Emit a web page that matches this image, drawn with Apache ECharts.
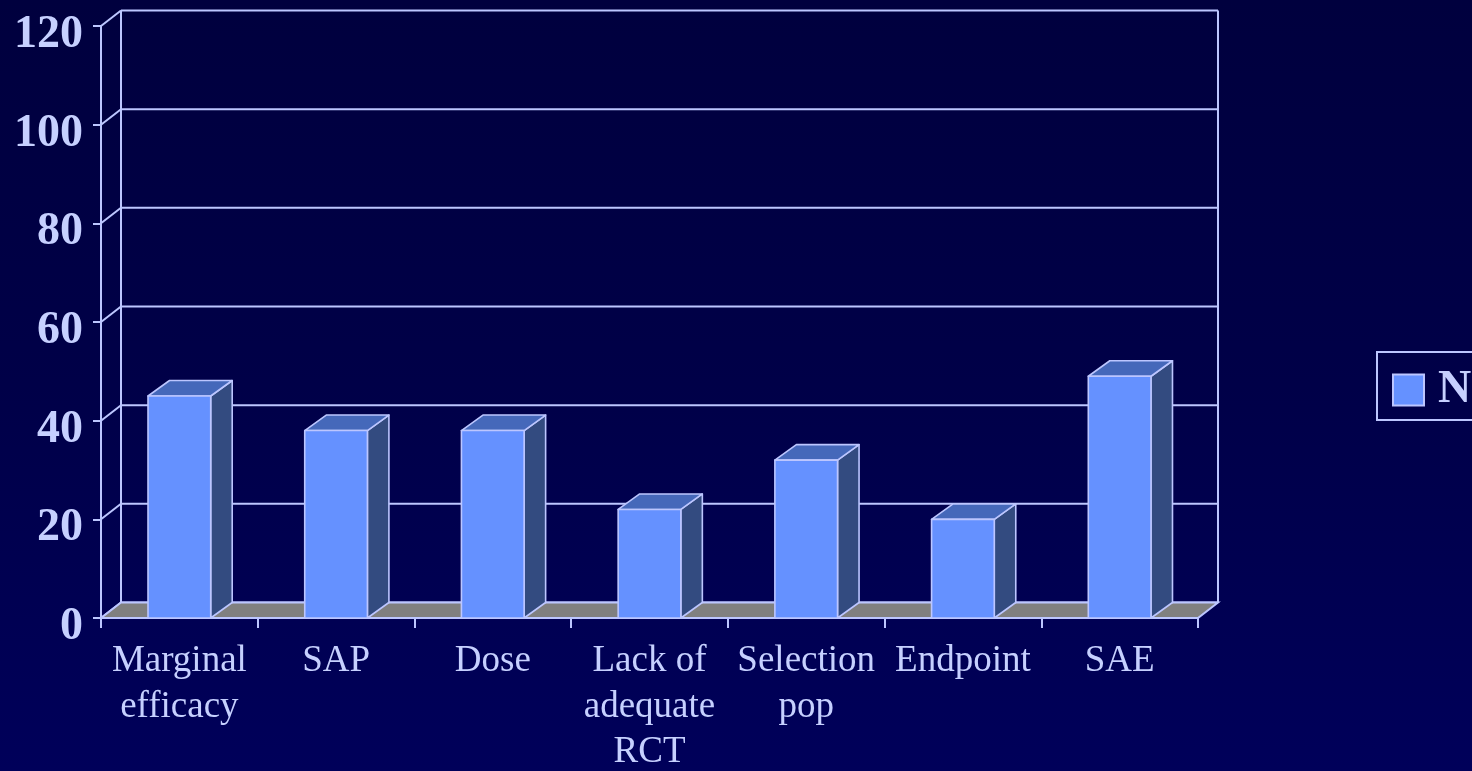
<!DOCTYPE html>
<html>
<head>
<meta charset="utf-8">
<script src="https://cdn.jsdelivr.net/npm/echarts@6/dist/echarts.min.js"></script>
<style>
  html, body { margin: 0; padding: 0; }
  #chart {
    width: 1472px; height: 771px;
    background: linear-gradient(to bottom, #00003e 0%, #000048 50%, #00005a 100%);
  }
</style>
</head>
<body>
<div id="chart"></div>
<script>
// Reasons cited, by category (count N)
const CATEGORIES = ['Marginal\nefficacy', 'SAP', 'Dose', 'Lack of\nadequate\nRCT', 'Selection\npop', 'Endpoint', 'SAE'];
const VALUES = [45, 38, 38, 22, 32, 20, 49];
const SERIES_NAME = 'N';
const Y_TICKS = [0, 20, 40, 60, 80, 100, 120];

const TEXT = '#c6d0ff';
const LINE = '#bcc6ff';
const FLOOR = '#808080';
const BAR_FRONT = '#6591ff';
const BAR_TOP = '#4568ba';
const BAR_SIDE = '#334b80';

// Oblique depth offsets for the walls and the bar boxes
const WALL_DX = 20, WALL_DY = -15.5;
const BAR_DX = 21.5, BAR_DY = -15.5;

const chart = echarts.init(document.getElementById('chart'), null, { renderer: 'canvas' });

function catEdges(api) {
  const w = api.size([1, 0])[0];
  const first = api.coord([0, 0])[0] - w / 2;
  const last = api.coord([CATEGORIES.length - 1, 0])[0] + w / 2;
  return { left: first, right: last, w };
}

// Back wall, side wall and floor, one grid level per data item
function renderWalls(params, api) {
  const v = api.value(1);
  const e = catEdges(api);
  const y = api.coord([0, v])[1];
  const style = { stroke: LINE, lineWidth: 2, fill: null };
  const children = [
    { type: 'line', shape: { x1: e.left + WALL_DX, y1: y + WALL_DY, x2: e.right + WALL_DX, y2: y + WALL_DY }, style },
    { type: 'line', shape: { x1: e.left, y1: y, x2: e.left + WALL_DX, y2: y + WALL_DY }, style }
  ];
  if (v === 0) {
    const yTop = api.coord([0, Y_TICKS[Y_TICKS.length - 1]])[1];
    children.push(
      { type: 'line', shape: { x1: e.left + WALL_DX, y1: y + WALL_DY, x2: e.left + WALL_DX, y2: yTop + WALL_DY }, style },
      { type: 'line', shape: { x1: e.right + WALL_DX, y1: y + WALL_DY, x2: e.right + WALL_DX, y2: yTop + WALL_DY }, style },
      { type: 'polygon',
        shape: { points: [[e.left, y], [e.right, y], [e.right + WALL_DX, y + WALL_DY], [e.left + WALL_DX, y + WALL_DY]] },
        style: { fill: FLOOR, stroke: LINE, lineWidth: 2 } }
    );
  }
  return { type: 'group', children };
}

// 3D box per category: front face, top face, right side face
function renderBar(params, api) {
  const i = api.value(0);
  const v = api.value(1);
  const top = api.coord([i, v]);
  const base = api.coord([i, 0]);
  const bw = api.size([1, 0])[0] * 0.4;
  const x0 = top[0] - bw / 2, x1 = top[0] + bw / 2;
  const yT = top[1], yB = base[1];
  const st = (fill) => ({ fill, stroke: LINE, lineWidth: 1.6, lineJoin: 'round' });
  return {
    type: 'group',
    children: [
      { type: 'polygon', shape: { points: [[x1, yB], [x1 + BAR_DX, yB + BAR_DY], [x1 + BAR_DX, yT + BAR_DY], [x1, yT]] }, style: st(BAR_SIDE) },
      { type: 'polygon', shape: { points: [[x0, yT], [x1, yT], [x1 + BAR_DX, yT + BAR_DY], [x0 + BAR_DX, yT + BAR_DY]] }, style: st(BAR_TOP) },
      { type: 'rect', shape: { x: x0, y: yT, width: bw, height: yB - yT }, style: st(BAR_FRONT) }
    ]
  };
}

const option = {
  backgroundColor: 'transparent',
  animation: false,
  textStyle: { fontFamily: '"Liberation Serif", "Times New Roman", serif' },
  grid: { left: 101, right: 274, top: 26, bottom: 153, containLabel: false, outerBoundsMode: 'none' },
  legend: {
    data: [SERIES_NAME],
    left: 1377, top: 352,
    orient: 'vertical',
    padding: [15, 24, 7, 15],
    borderColor: LINE, borderWidth: 2,
    itemWidth: 31, itemHeight: 31, itemGap: 0,
    icon: 'rect',
    itemStyle: { color: BAR_FRONT, borderColor: LINE, borderWidth: 2 },
    textStyle: { color: TEXT, fontSize: 46, fontWeight: 'bold', padding: [0, 0, 0, 9],
      fontFamily: '"Liberation Serif", serif' }
  },
  xAxis: {
    type: 'category',
    data: CATEGORIES,
    boundaryGap: true,
    axisLine: { lineStyle: { color: LINE, width: 2 } },
    axisTick: { show: true, length: 10, alignWithLabel: false, lineStyle: { color: LINE, width: 2 } },
    axisLabel: { interval: 0, color: TEXT, fontSize: 37, lineHeight: 45.5, margin: 21,
      fontFamily: '"Liberation Serif", serif' },
    splitLine: { show: false }
  },
  yAxis: {
    type: 'value',
    min: 0, max: 120, interval: 20,
    axisLine: { show: true, lineStyle: { color: LINE, width: 2 } },
    axisTick: { show: true, length: 8, lineStyle: { color: LINE, width: 2 } },
    axisLabel: { color: TEXT, fontSize: 46, fontWeight: 'bold', margin: 18,
      verticalAlign: 'top', lineHeight: 18,
      fontFamily: '"Liberation Serif", serif' },
    splitLine: { show: false }
  },
  series: [
    {
      type: 'custom',
      name: 'walls',
      coordinateSystem: 'cartesian2d',
      renderItem: renderWalls,
      data: Y_TICKS.map(v => [0, v]),
      encode: { x: 0, y: 1 },
      clip: false,
      silent: true,
      z: 1
    },
    {
      type: 'custom',
      name: SERIES_NAME,
      coordinateSystem: 'cartesian2d',
      renderItem: renderBar,
      data: VALUES.map((v, i) => [i, v]),
      encode: { x: 0, y: 1 },
      itemStyle: { color: BAR_FRONT, borderColor: LINE },
      clip: false,
      z: 3
    }
  ]
};

chart.setOption(option);
</script>
</body>
</html>
